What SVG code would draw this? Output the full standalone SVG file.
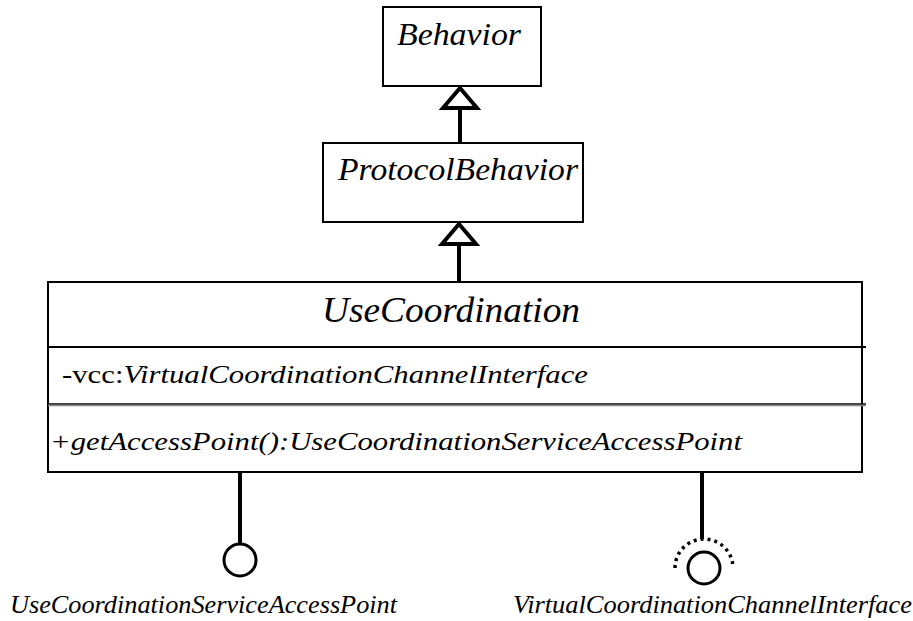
<svg xmlns="http://www.w3.org/2000/svg" width="913" height="621" viewBox="0 0 913 621">
<style>
.box{fill:#fff;stroke:#000;stroke-width:2}
.t{font-family:"Liberation Serif","Times New Roman",serif;font-style:italic;fill:#000}
.r{font-style:normal}
.edge{stroke:#000;stroke-width:4;fill:none}
.tri{fill:#fff;stroke:#000;stroke-width:4;stroke-linejoin:miter}
.div{stroke:#000;stroke-width:2}
</style>
<rect width="913" height="621" fill="#fff"/>
<g id="connectors">
<line class="edge" x1="460" y1="106" x2="460" y2="143"/>
<polygon class="tri" points="460,88 443,108 477,108"/>
<line class="edge" x1="459" y1="242" x2="459" y2="282"/>
<polygon class="tri" points="459,224 442,244 476,244"/>
<line class="edge" x1="240" y1="472" x2="240" y2="544"/>
<line class="edge" x1="702" y1="472" x2="702" y2="539"/>
</g>
<g id="Behavior">
<rect class="box" x="383" y="7" width="158" height="79"/>
<text class="t" x="397" y="45" font-size="32" textLength="124" lengthAdjust="spacingAndGlyphs">Behavior</text>
</g>
<g id="ProtocolBehavior">
<rect class="box" x="323" y="143" width="260" height="79"/>
<text class="t" x="338" y="180" font-size="32" textLength="240" lengthAdjust="spacingAndGlyphs">ProtocolBehavior</text>
</g>
<g id="UseCoordination">
<rect class="box" x="48" y="282" width="814" height="190"/>
<line class="div" x1="48" y1="347" x2="866" y2="347"/>
<line x1="48" y1="404" x2="866" y2="404" stroke="#000" stroke-width="1.5"/>
<line x1="48" y1="405.5" x2="866" y2="405.5" stroke="#888" stroke-width="1.5"/>
<text class="t" x="322" y="322" font-size="35" textLength="258" lengthAdjust="spacingAndGlyphs">UseCoordination</text>
<text class="t" x="62" y="383" font-size="25" textLength="526" lengthAdjust="spacingAndGlyphs"><tspan class="r">-vcc:</tspan>VirtualCoordinationChannelInterface</text>
<text class="t" x="50" y="450" font-size="25" textLength="692" lengthAdjust="spacingAndGlyphs">+getAccessPoint():UseCoordinationServiceAccessPoint</text>
</g>
<g id="UseCoordinationServiceAccessPoint">
<circle cx="240" cy="560" r="16" fill="#fff" stroke="#000" stroke-width="3"/>
<text class="t" x="10" y="613" font-size="25" textLength="387" lengthAdjust="spacingAndGlyphs">UseCoordinationServiceAccessPoint</text>
</g>
<g id="VirtualCoordinationChannelInterface">
<circle cx="704" cy="568" r="16" fill="#fff" stroke="#000" stroke-width="3"/>
<path d="M675,568 A29,29 0 1 1 733,568" fill="none" stroke="#000" stroke-width="3.5" stroke-dasharray="3 4"/>
<text class="t" x="513" y="613" font-size="25" textLength="399" lengthAdjust="spacingAndGlyphs">VirtualCoordinationChannelInterface</text>
</g>
</svg>
